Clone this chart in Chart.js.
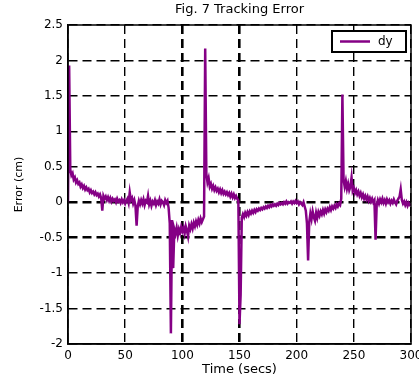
<!DOCTYPE html>
<html>
<head>
<meta charset="utf-8">
<script src="https://cdn.jsdelivr.net/npm/chart.js@4.4.1/dist/chart.umd.min.js"></script>
<style>
  html, body { margin: 0; padding: 0; background: #fff; }
  #wrap { width: 419px; height: 383px; }
</style>
</head>
<body>
<div id="wrap"><canvas id="errorChart" width="419" height="383"></canvas></div>
<script>
// one sample per second, t = 0 .. 300 s
const sampleSecs = 1;
// tracking error dy (cm)
const dy = [
    0.00, 1.93, 0.46, 0.38, 0.41, 0.32, 0.35, 0.28, 0.31, 0.26,
    0.28, 0.22, 0.25, 0.20, 0.23, 0.18, 0.21, 0.17, 0.19, 0.14,
    0.17, 0.13, 0.15, 0.11, 0.14, 0.10, 0.12, 0.08, 0.11, 0.06,
    -0.12, 0.09, 0.05, 0.08, 0.03, 0.07, 0.02, 0.06, 0.01, 0.05,
    0.02, 0.04, 0.00, 0.05, 0.01, 0.03, -0.01, 0.04, 0.00, 0.03,
    -0.02, 0.02, 0.05, -0.01, 0.14, 0.03, 0.06, -0.02, 0.03, -0.05,
    -0.33, -0.06, 0.02, -0.03, 0.03, -0.02, 0.04, -0.04, 0.02, 0.00,
    0.09, -0.03, 0.02, -0.05, 0.01, -0.02, 0.03, -0.04, 0.01, -0.02,
    0.04, -0.03, 0.02, 0.00, -0.04, 0.03, -0.01, 0.02, -0.08, -0.30,
    -1.85, -0.25, -0.93, -0.38, -0.44, -0.36, -0.47, -0.38, -0.43, -0.35,
    -0.41, -0.36, -0.44, -0.34, -0.40, -0.48, -0.33, -0.38, -0.31, -0.37,
    -0.29, -0.34, -0.27, -0.32, -0.25, -0.30, -0.23, -0.28, -0.24, -0.20,
    2.17, 0.40, 0.28, 0.34, 0.22, 0.26, 0.19, 0.23, 0.17, 0.21,
    0.16, 0.19, 0.14, 0.18, 0.13, 0.17, 0.12, 0.15, 0.11, 0.14,
    0.10, 0.13, 0.08, 0.12, 0.07, 0.11, 0.06, 0.09, 0.05, 0.02,
    -1.72, -1.30, -0.22, -0.17, -0.21, -0.15, -0.19, -0.14, -0.18, -0.13,
    -0.16, -0.12, -0.15, -0.11, -0.14, -0.10, -0.12, -0.09, -0.11, -0.08,
    -0.10, -0.07, -0.09, -0.06, -0.08, -0.05, -0.07, -0.04, -0.06, -0.03,
    -0.05, -0.03, -0.05, -0.02, -0.04, -0.01, -0.03, -0.01, -0.03, 0.00,
    -0.02, 0.01, -0.02, 0.00, -0.01, 0.01, -0.02, 0.01, -0.01, 0.02,
    -0.01, 0.01, -0.03, 0.00, -0.02, -0.04, 0.00, -0.06, -0.12, -0.30,
    -0.82, -0.28, -0.16, -0.24, -0.13, -0.21, -0.26, -0.15, -0.22, -0.14,
    -0.19, -0.13, -0.17, -0.11, -0.16, -0.10, -0.14, -0.09, -0.12, -0.07,
    -0.11, -0.06, -0.09, -0.05, -0.08, -0.03, -0.06, -0.02, -0.04, 0.05,
    1.52, 0.32, 0.22, 0.30, 0.19, 0.26, 0.17, 0.22, 0.35, 0.16,
    0.20, 0.13, 0.17, 0.11, 0.15, 0.09, 0.13, 0.07, 0.11, 0.05,
    0.09, 0.04, 0.08, 0.02, 0.06, 0.01, 0.05, 0.00, 0.03, -0.53,
    -0.04, 0.03, -0.02, 0.04, 0.00, 0.05, -0.01, 0.03, -0.02, 0.04,
    0.00, 0.03, -0.02, 0.02, -0.01, 0.04, 0.00, -0.03, 0.02, 0.05,
    0.08, 0.18, 0.03, -0.02, 0.01, -0.04, 0.00, -0.05, -0.01, -0.04,
    -0.03
];
const xTicks = [0, 50, 100, 150, 200, 250, 300];
const yTicks = [-2, -1.5, -1, -0.5, 0, 0.5, 1, 1.5, 2, 2.5];
const heavyX = [100, 150];
const heavyY = [0, -0.5];

const purple = '#850085';
const font = '"DejaVu Sans", Arial, sans-serif';

// solid frame around the plot and the boxed "dy" legend in the top right corner
const framePlugin = {
    id: 'frame',
    afterDraw(chart) {
        const c = chart.ctx;
        const a = chart.chartArea;
        c.save();
        c.setLineDash([]);
        c.strokeStyle = '#000';
        c.lineWidth = 1.5;
        c.strokeRect(a.left, a.top, a.right - a.left, a.bottom - a.top);

        const bx = a.right - 79, by = a.top + 6, bw = 74, bh = 21;
        c.fillStyle = '#fff';
        c.fillRect(bx, by, bw, bh);
        c.lineWidth = 2;
        c.strokeRect(bx, by, bw, bh);
        c.strokeStyle = purple;
        c.lineWidth = 2.5;
        c.beginPath();
        c.moveTo(bx + 8, by + bh / 2);
        c.lineTo(bx + 38, by + bh / 2);
        c.stroke();
        c.fillStyle = '#000';
        c.font = '12px ' + font;
        c.textBaseline = 'middle';
        c.fillText(chart.data.datasets[0].label, bx + 46, by + bh / 2);
        c.restore();
    }
};

new Chart(document.getElementById('errorChart').getContext('2d'), {
    type: 'line',
    data: {
        datasets: [{
            label: 'dy',
            data: dy.map((v, i) => ({ x: i * sampleSecs, y: v })),
            borderColor: purple,
            backgroundColor: purple,
            borderWidth: 2.5,
            pointRadius: 0,
            tension: 0,
            fill: false
        }]
    },
    options: {
        responsive: false,
        animation: false,
        layout: { padding: 0 },
        plugins: {
            title: {
                display: true,
                text: 'Fig. 7 Tracking Error',
                color: '#000',
                fullSize: false,
                font: { family: font, size: 13, weight: 'normal' },
                padding: { top: 2.2, bottom: 7.2 }
            },
            legend: { display: false },
            tooltip: { enabled: false }
        },
        scales: {
            x: {
                type: 'linear',
                min: 0,
                max: 300,
                afterBuildTicks: axis => { axis.ticks = xTicks.map(v => ({ value: v })); },
                afterFit: axis => { axis.height = 39; axis.paddingRight = 8; },
                ticks: { color: '#000', font: { family: font, size: 12 }, padding: 5, maxRotation: 0, callback: v => String(v) },
                grid: {
                    color: '#000',
                    lineWidth: ctx => heavyX.includes(ctx.tick && ctx.tick.value) ? 2.6 : 1.4,
                    drawTicks: false
                },
                border: { display: true, color: '#000', width: 1.5, dash: [9, 5] },
                title: { display: true, text: 'Time (secs)', color: '#000', font: { family: font, size: 13 }, padding: { top: 0, bottom: 5.2 } }
            },
            y: {
                min: -2,
                max: 2.5,
                afterBuildTicks: axis => { axis.ticks = yTicks.map(v => ({ value: v })); },
                afterFit: axis => { axis.width = 68; },
                ticks: { color: '#000', font: { family: font, size: 12 }, padding: 5, callback: v => String(v) },
                grid: {
                    color: '#000',
                    lineWidth: ctx => heavyY.includes(ctx.tick && ctx.tick.value) ? 2.6 : 1.4,
                    drawTicks: false
                },
                border: { display: true, color: '#000', width: 1.5, dash: [9, 5] },
                title: { display: true, text: 'Error (cm)', color: '#000', font: { family: font, size: 11 }, padding: { top: 13, bottom: 0 } }
            }
        }
    },
    plugins: [framePlugin]
});
</script>
</body>
</html>
